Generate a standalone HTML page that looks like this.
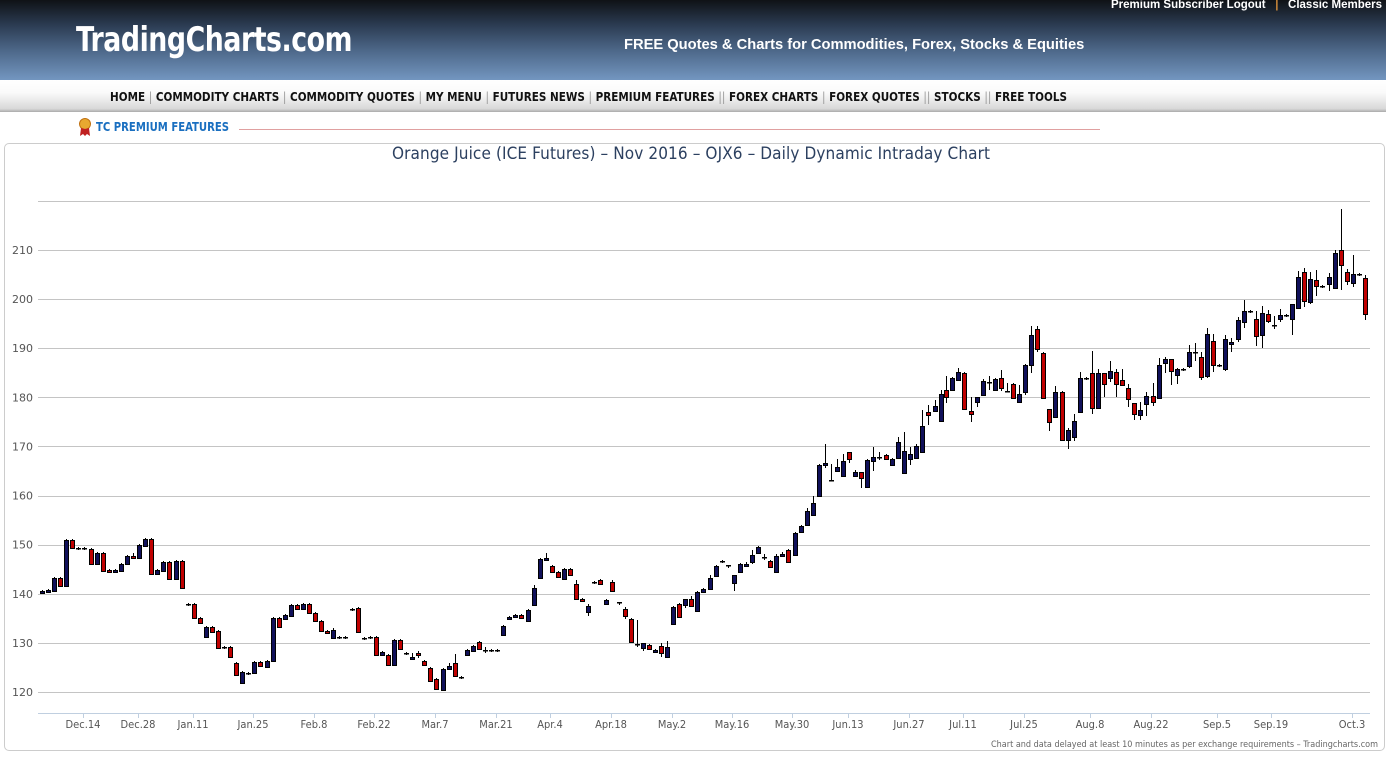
<!DOCTYPE html>
<html><head><meta charset="utf-8"><style>
body{margin:0;width:1386px;height:776px;overflow:hidden;background:#fff;font-family:"Liberation Sans",sans-serif;position:relative}
.hdr{position:absolute;left:0;top:0;width:1386px;height:80px;background:linear-gradient(#0f1216 0%,#2a3a50 30%,#4f6a8c 65%,#7396c0 100%)}
.logo{position:absolute;left:76px;top:20px;color:#fff;font-size:34px;font-weight:bold;font-family:"DejaVu Sans Condensed","DejaVu Sans",sans-serif;letter-spacing:-0.5px;transform-origin:0 0;white-space:pre}
.free{position:absolute;left:624px;top:37px;color:#fff;font-weight:bold;font-size:14.7px}
.top{position:absolute;right:4px;top:-1px;color:#fff;font-weight:bold;font-size:11.5px;white-space:pre}
.nav{position:absolute;left:0;top:80px;width:1386px;height:32px;background:linear-gradient(#fff 0%,#fafafa 40%,#d8d8d8 90%,#aaa 100%)}
.navt{position:absolute;left:110px;top:89px;font-size:12.5px;font-weight:bold;color:#111;white-space:pre;transform-origin:0 0;font-family:"DejaVu Sans Condensed","Liberation Sans Narrow","Liberation Sans",sans-serif}
.navt span{color:#999;font-weight:normal}
.tcp{position:absolute;left:96px;top:120px;color:#1a6fc0;font-weight:bold;font-size:12px;white-space:pre;transform-origin:0 0;font-family:"DejaVu Sans Condensed","Liberation Sans",sans-serif}
.panel{position:absolute;left:4px;top:143px;width:1379px;height:606px;border:1px solid #ccc;border-radius:5px}
</style></head><body>
<div class="hdr"></div>
<div class="logo" id="lg">TradingCharts.com</div>
<div class="free">FREE Quotes &amp; Charts for Commodities, Forex, Stocks &amp; Equities</div>
<div class="top">Premium Subscriber Logout   <span style="color:#d08a3a">|</span>   Classic Members</div>
<div class="nav"></div>
<div class="navt" id="nv">HOME <span>|</span> COMMODITY CHARTS <span>|</span> COMMODITY QUOTES <span>|</span> MY MENU <span>|</span> FUTURES NEWS <span>|</span> PREMIUM FEATURES <span>||</span> FOREX CHARTS <span>|</span> FOREX QUOTES <span>||</span> STOCKS <span>||</span> FREE TOOLS</div>
<svg style="position:absolute;left:78px;top:118px" width="14" height="20"><circle cx="7" cy="6" r="5.5" fill="#e8a830" stroke="#c07010"/><path d="M3 10 L2 18 L5 16 L7 18 L7 11 Z M11 10 L12 18 L9 16 L7 18 L7 11Z" fill="#c02020"/></svg>
<div class="tcp" id="tc">TC PREMIUM FEATURES</div>
<div style="position:absolute;left:239px;top:129px;width:861px;height:1px;background:#e0a0a0"></div>
<div class="panel"></div>
<svg id="ch" style="position:absolute;left:0;top:0" width="1386" height="776"></svg>
<script>
function fit(id,W){var e=document.getElementById(id);var w=e.getBoundingClientRect().width;e.style.transform='scaleX('+(W/w)+')';}
fit('nv',957);fit('lg',276);fit('tc',133);
var s='';
s+='<text x="691" y="159" text-anchor="middle" font-family="DejaVu Sans Condensed,DejaVu Sans,sans-serif" font-size="17" textLength="598" fill="#2c4060">Orange Juice (ICE Futures) – Nov 2016 – OJX6 – Daily Dynamic Intraday Chart</text>';
for(var i=0;i<=10;i++){var y=Math.round(692-i*49.11)+.5;s+='<line x1="38" x2="1370" y1="'+y+'" y2="'+y+'" stroke="#c4c4c4"/>';}
[120,130,140,150,160,170,180,190,200,210].forEach(function(p,i){var y=692-i*49.11;s+='<text x="12" y="'+(y+4)+'" font-size="11" fill="#555" font-family="DejaVu Sans,sans-serif">'+p+'</text>';});
s+='<line x1="38" x2="1370" y1="713.5" y2="713.5" stroke="#c0cfe0"/>';
var L=[['Dec.14',83],['Dec.28',138],['Jan.11',193],['Jan.25',253],['Feb.8',314],['Feb.22',374],['Mar.7',435],['Mar.21',496],['Apr.4',550],['Apr.18',611],['May.2',672],['May.16',732],['May.30',792],['Jun.13',848],['Jun.27',909],['Jul.11',963],['Jul.25',1024],['Aug.8',1090],['Aug.22',1151],['Sep.5',1217],['Sep.19',1271],['Oct.3',1352]];
L.forEach(function(l){s+='<line x1="'+(l[1]+.5)+'" x2="'+(l[1]+.5)+'" y1="713" y2="718" stroke="#c0cfe0"/><text x="'+l[1]+'" y="728" text-anchor="middle" font-size="11" fill="#555" font-family="DejaVu Sans Condensed,DejaVu Sans,sans-serif">'+l[0]+'</text>';});
s+='<text x="1378" y="747" text-anchor="end" font-size="9" fill="#666" font-family="DejaVu Sans Condensed,DejaVu Sans,sans-serif">Chart and data delayed at least 10 minutes as per exchange requirements – Tradingcharts.com</text>';
var D=[[42,591,593,'b'],[48,590,592,'b'],[54,578,591,'b'],[60,578,586,'r'],[66,540,586,'b'],[72,540,548,'r'],[78,548,549,'d'],[84,548,549,'d'],[91,549,564,'r'],[97,553,564,'b'],[103,553,571,'r'],[109,570,572,'r'],[115,570,572,'b'],[121,564,571,'b'],[127,556,564,'b'],[133,556,558,'r',553],[139,545,558,'b'],[145,539,546,'b'],[151,539,574,'r'],[157,570,574,'b'],[163,562,571,'b'],[169,562,579,'r'],[176,561,579,'b'],[182,561,588,'r'],
[188,604,605,'d'],[194,604,618,'r'],[200,618,623,'r'],[206,627,637,'b'],[212,627,632,'r'],[218,631,648,'r'],[224,647,648,'d'],[230,647,657,'r'],[236,663,675,'r'],[242,672,683,'b'],[248,673,674,'d'],[254,662,673,'b'],[260,662,666,'r'],[267,661,667,'b'],[273,618,661,'b'],[279,618,627,'r'],[285,615,619,'b'],[291,605,616,'b'],[297,605,609,'r'],[303,604,609,'b'],[309,604,613,'r'],[315,613,621,'r'],[321,621,631,'r'],[327,631,633,'r'],[333,630,638,'b',628],[339,637,638,'d'],[345,637,638,'d'],
[352,609,610,'d'],[358,608,632,'r'],[364,638,639,'d'],[370,637,638,'d'],[376,637,655,'r'],[382,652,655,'b'],[388,655,665,'r'],[394,640,665,'b'],[400,640,649,'r'],[406,653,654,'d'],[412,657,658,'b',653],[418,653,655,'r',651,658],[424,661,665,'r'],[430,668,681,'r'],[436,679,689,'r'],[443,669,690,'b'],[449,666,669,'b',663],[455,663,676,'r',654],[461,677,678,'d'],[467,650,655,'b'],[473,646,651,'b'],[479,642,649,'r'],[485,650,651,'d',647,653],[491,650,651,'d'],[497,650,651,'d'],[503,626,635,'b'],[509,617,619,'b'],[515,615,617,'b'],[521,615,618,'r'],[528,610,621,'b'],[534,588,605,'b',585],[540,559,578,'b'],[546,558,560,'b',553],[552,566,572,'r'],[558,572,577,'r'],[564,569,579,'b'],[570,569,575,'r'],
[576,584,599,'r',580],[582,599,601,'r'],[588,606,612,'b',604,616],[594,582,583,'d'],[600,580,584,'r'],[606,600,604,'b'],[612,582,591,'r',580],[619,602,603,'d',602,605],[625,609,616,'r',607,619],[631,619,642,'r'],[637,644,645,'d',620,647],[643,643,648,'b',643,651],[649,645,649,'r'],[655,650,651,'b'],[661,646,653,'r',643,657],[667,647,657,'b',641],[673,607,624,'b'],[679,604,617,'r'],[685,599,605,'b',599,608],[691,599,606,'r',596],[697,592,611,'b'],[703,589,592,'b'],[710,578,589,'b',575],[716,566,576,'b'],[722,561,562,'d'],[728,565,566,'d',565,568],[734,575,583,'b',575,591],[740,564,572,'b'],[746,564,566,'b',562],[752,555,562,'b',550,564],[758,547,553,'b'],[764,557,558,'d',554,560],[770,561,567,'r'],[776,556,572,'b',554],[782,554,556,'b',552],[788,550,562,'r'],[795,533,555,'b'],[801,526,532,'b'],[807,511,525,'b',508],[813,503,515,'b',496],[819,465,496,'b'],[825,463,465,'b',444,468],[831,480,481,'d',464,481],[837,467,471,'b',459],[843,461,476,'b',454],[849,452,459,'r',452,463],[855,472,476,'b',470],[861,472,478,'r',472,488],[867,460,487,'b'],[873,457,461,'b',447,471],[879,457,458,'d',452,460],[886,455,459,'r'],[892,459,465,'b'],[898,442,458,'b',437],[904,451,473,'b',432],[910,454,459,'b',447,465],[916,446,458,'b',444],[922,426,452,'b',410],[928,412,415,'r',405,425],
[935,406,411,'b',400],[941,394,421,'b',390],[946,390,397,'r',376,403],[952,378,390,'b'],[958,372,380,'b',368],[964,373,409,'r'],[971,411,414,'r',397,422],[977,397,402,'b',407],[983,381,395,'b',379],[989,382,383,'d',376,390],[995,379,390,'b',378],[1001,378,388,'r',370,391],[1007,391,392,'d',383,392],[1013,384,398,'r'],[1019,394,402,'b',385],[1025,365,392,'b',364,395],[1031,335,365,'b',326,373],[1037,329,349,'r',326,352],[1043,353,398,'r'],[1049,409,422,'r',409,431],[1055,392,417,'b',386],[1062,392,440,'r'],[1068,430,440,'b',428,449],[1074,421,437,'b',414,441],[1080,378,412,'b',372],[1086,378,379,'d'],[1092,373,408,'r',351,414],[1098,373,408,'b',369],[1104,373,384,'r',373,397],[1110,371,378,'b',361,382],[1116,372,384,'r',369,397],[1122,380,385,'r',369],[1128,388,399,'r',384,407],[1134,403,414,'r',403,420],[1140,410,415,'b',402,420],[1146,396,404,'b',392,416],[1153,396,402,'r',383,406],[1159,365,398,'b',358],
[1165,359,363,'b',357,373],[1171,359,371,'r',359,385],[1177,369,375,'b',368,384],[1183,369,370,'d'],[1189,352,366,'b',345,368],[1195,352,353,'d',343,361],[1201,357,377,'r',352,380],[1207,334,376,'b',328,378],[1213,341,365,'r',334,372],[1219,365,366,'d'],[1225,339,369,'b',335,371],[1231,342,344,'b',338,352],[1238,320,339,'b',317,342],[1244,311,322,'b',300,328],[1250,311,312,'d'],[1256,319,336,'r',311,346],[1262,313,335,'b',306,348],[1268,314,321,'r',310,323],[1274,325,326,'d',316,329],[1280,315,319,'b',309,322],[1286,315,316,'d'],[1292,304,319,'b',304,335],[1298,277,308,'b',271],[1304,272,301,'r',268,307],[1310,279,302,'b',272,304],[1316,280,286,'r',270,296],[1322,286,287,'d'],[1329,277,284,'b',273,291],[1335,253,288,'b',250],[1341,250,265,'r',209,290],[1347,272,281,'r',269,285],[1353,274,283,'b',255,287],[1359,274,275,'d'],[1365,278,314,'r',275,320]];
D.forEach(function(d){var x=d[0],t=d[1],b=d[2],c=d[3];var wt=d[4]!==undefined?d[4]:t-1,wb=d[5]!==undefined?d[5]:b+1;
s+='<line x1="'+(x+.5)+'" x2="'+(x+.5)+'" y1="'+wt+'" y2="'+wb+'" stroke="#000"/>';
if(c=='d'){s+='<rect x="'+(x-2)+'" y="'+t+'" width="5" height="1.5" fill="#000"/>';}
else{var h=Math.max(b-t,2);s+='<rect x="'+(x-1.5)+'" y="'+(t+.5)+'" width="4" height="'+h+'" fill="'+(c=='r'?'#c00000':'#10105a')+'" stroke="#000" stroke-width="1"/>';}});
document.getElementById('ch').innerHTML=s;
</script>
</body></html>
